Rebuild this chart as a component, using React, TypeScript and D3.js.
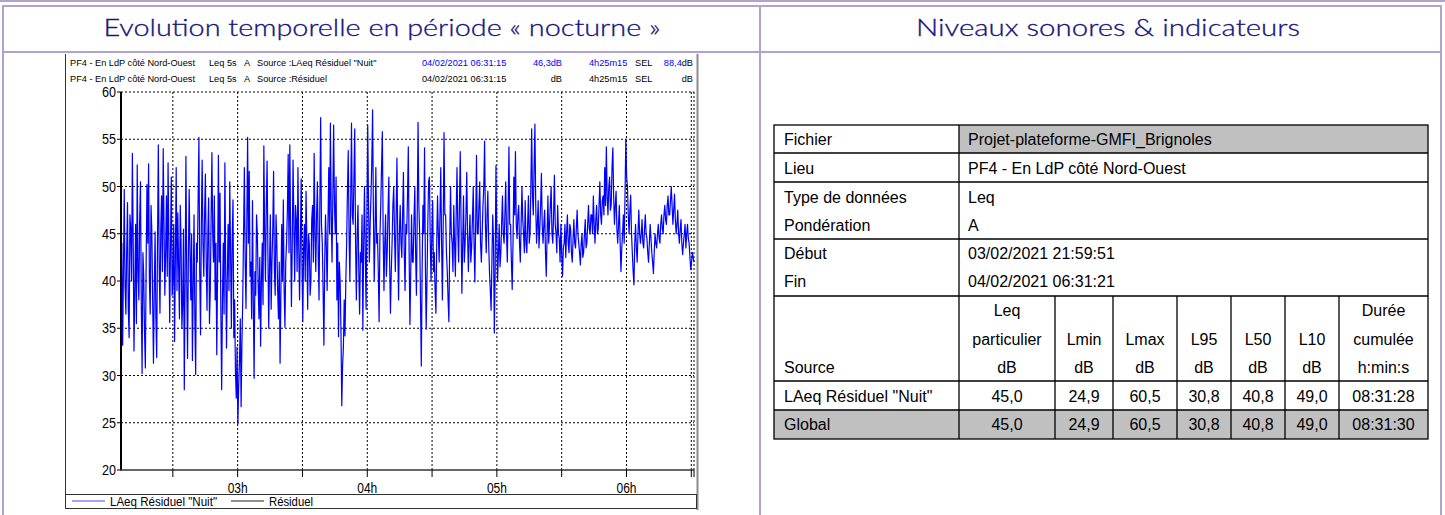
import React, { useEffect, useRef } from "react";
import * as d3 from "d3";

const width = 1445;
const height = 515;

// Leq values (dB), left to right, evenly spaced in time
const levels = [
  38.5, 44.0, 33.2, 41.0, 49.7, 39.5, 36.5, 43.0, 48.3, 37.0, 34.0, 47.0, 45.5, 40.0, 53.5, 44.5, 32.6, 39.0, 46.0, 35.5,
  52.3, 41.0, 38.0, 46.5, 50.5, 37.5, 30.2, 43.0, 40.5, 34.5, 30.8, 42.0, 50.2, 44.0, 52.4, 40.0, 36.5, 48.0, 45.3, 38.0,
  31.3, 39.0, 45.2, 36.0, 31.9, 44.5, 54.4, 42.0, 36.6, 45.5, 49.0, 41.0, 54.0, 46.0, 38.5, 43.0, 49.0, 40.5, 52.5, 44.0,
  35.6, 44.0, 51.0, 38.5, 40.0, 46.0, 33.6, 42.5, 52.0, 39.0, 47.2, 41.5, 36.0, 48.0, 44.0, 35.0, 37.5, 45.5, 28.5, 40.0,
  53.2, 40.0, 31.8, 42.5, 49.7, 43.0, 38.0, 45.0, 31.6, 39.5, 47.0, 36.0, 30.1, 44.0, 42.0, 48.5, 55.2, 41.0, 34.3, 46.0,
  52.8, 44.0, 40.5, 47.0, 51.3, 42.0, 36.9, 45.0, 48.8, 35.5, 39.0, 46.5, 53.6, 45.0, 42.0, 49.0, 38.0, 44.0, 32.2, 41.0,
  53.3, 42.0, 49.3, 37.0, 28.5, 38.0, 44.0, 36.5, 52.5, 41.0, 32.9, 40.5, 46.0, 39.0, 50.5, 43.0, 35.0, 44.5, 48.6, 34.0,
  38.0, 30.5, 27.6, 33.0, 24.9, 29.0, 31.5, 36.0, 26.7, 33.5, 38.0, 45.0, 52.0, 42.0, 37.1, 46.0, 55.2, 44.0, 51.6, 40.5,
  42.0, 36.0, 48.5, 38.0, 29.7, 41.0, 38.5, 47.0, 45.0, 39.5, 36.0, 42.5, 33.1, 40.0, 44.0, 37.5, 54.3, 45.0, 40.0, 48.0,
  52.7, 43.0, 35.0, 41.5, 47.0, 37.0, 42.0, 45.5, 51.6, 41.0, 38.5, 47.0, 44.0, 39.0, 36.0, 42.0, 31.3, 38.5, 46.0, 40.0,
  48.6, 39.0, 35.1, 42.0, 44.0, 47.5, 53.4, 43.0, 54.4, 45.0, 37.3, 44.0, 52.8, 46.0, 40.0, 48.0, 46.5, 41.0, 52.0, 43.5,
  38.0, 44.0, 50.8, 42.0, 35.7, 43.5, 46.0, 40.0, 49.5, 44.0, 37.0, 45.0, 44.0, 38.5, 40.0, 46.5, 48.0, 42.0, 53.5, 45.0,
  41.0, 47.0, 50.5, 43.0, 38.0, 48.0, 57.3, 46.0, 44.0, 39.0, 33.2, 42.0, 47.0, 43.5, 39.0, 46.0, 52.0, 45.0, 56.7, 47.5,
  42.0, 49.0, 56.5, 48.0, 45.0, 51.0, 38.0, 44.0, 34.1, 42.0, 40.0, 35.0, 26.8, 31.0, 33.0, 38.0, 34.2, 40.0, 44.0, 49.5,
  53.8, 45.0, 40.0, 48.5, 56.7, 47.0, 46.0, 51.0, 56.1, 44.0, 38.0, 45.0, 48.0, 41.0, 36.5, 43.0, 42.0, 47.0, 34.8, 44.0,
  50.0, 43.0, 37.0, 47.0, 56.5, 48.0, 42.0, 46.0, 49.0, 52.5, 58.1, 47.0, 40.0, 45.0, 52.0, 44.0, 45.0, 41.0, 35.7, 44.5,
  48.0, 52.0, 55.8, 45.0, 39.0, 44.0, 47.0, 40.5, 43.0, 47.5, 51.0, 42.0, 36.6, 41.0, 44.0, 48.0, 50.0, 45.0, 41.0, 47.0,
  53.0, 44.0, 38.0, 45.0, 48.0, 44.0, 42.5, 47.0, 51.5, 43.0, 39.0, 46.0, 45.0, 49.0, 54.2, 43.0, 35.4, 41.0, 47.0, 42.0,
  42.0, 46.5, 50.0, 43.0, 38.5, 47.0, 56.8, 48.0, 45.0, 38.0, 31.0, 41.0, 48.0, 45.0, 54.1, 42.0, 34.9, 40.0, 46.0, 50.5,
  51.0, 44.5, 40.0, 45.0, 48.5, 41.0, 43.0, 39.0, 36.6, 44.0, 49.0, 45.0, 42.0, 47.0, 52.0, 44.0, 38.0, 46.0, 55.7, 47.0,
  47.0, 43.0, 41.0, 38.0, 35.7, 44.0, 50.0, 45.0, 44.0, 41.0, 48.0, 44.0, 40.5, 47.0, 52.0, 45.5, 42.0, 48.0, 53.7, 46.0,
  38.7, 44.0, 49.0, 42.0, 44.0, 47.0, 51.5, 45.0, 41.0, 44.5, 47.0, 42.0, 43.5, 46.5, 50.0, 44.0, 39.9, 46.0, 53.3, 45.0,
  45.0, 48.0, 50.5, 44.0, 42.0, 45.0, 48.0, 50.0, 54.8, 46.0, 43.0, 47.0, 49.5, 44.0, 41.0, 39.0, 36.9, 42.0, 47.0, 44.0,
  34.5, 41.0, 52.2, 45.0, 40.0, 43.0, 46.0, 41.5, 43.0, 46.0, 49.0, 45.0, 44.0, 47.0, 50.5, 45.0, 42.0, 47.5, 54.2, 46.0,
  46.0, 42.0, 39.1, 44.0, 51.0, 47.0, 53.7, 46.0, 44.5, 47.0, 48.0, 44.0, 42.0, 46.0, 50.0, 46.5, 45.0, 43.0, 48.5, 44.0,
  43.0, 46.0, 49.0, 44.0, 45.0, 50.0, 56.1, 49.0, 47.0, 52.0, 56.6, 48.0, 44.0, 46.0, 48.5, 43.5, 45.5, 48.0, 51.4, 46.0,
  44.0, 46.0, 47.5, 43.0, 40.5, 45.0, 49.0, 44.0, 46.0, 48.0, 50.0, 45.0, 44.0, 47.0, 51.2, 46.0, 45.0, 43.0, 48.0, 45.0,
  44.5, 42.0, 46.0, 43.0, 40.5, 43.5, 44.0, 46.0, 42.5, 45.0, 47.0, 44.0, 43.0, 46.0, 45.5, 43.0, 42.0, 44.5, 46.5, 44.0,
  43.5, 45.5, 47.5, 45.0, 44.0, 43.0, 41.7, 44.0, 45.0, 42.5, 43.0, 45.0, 46.5, 43.5, 44.0, 46.0, 48.0, 45.5, 45.0, 47.0,
  47.0, 45.0, 49.0, 46.0, 44.0, 46.5, 48.0, 45.0, 45.5, 48.0, 50.5, 47.0, 46.0, 48.5, 49.0, 47.0, 52.0, 48.0, 54.2, 49.0,
  47.0, 50.0, 51.0, 47.5, 48.0, 52.0, 54.1, 49.0, 46.0, 48.0, 49.5, 45.5, 44.0, 46.0, 48.0, 44.0, 41.0, 43.5, 45.0, 47.0,
  44.0, 49.0, 55.0, 51.0, 50.0, 47.0, 45.0, 47.5, 49.1, 45.0, 43.0, 41.0, 39.6, 44.0, 46.0, 43.5, 42.0, 45.0, 47.5, 45.0,
  44.0, 45.0, 46.5, 44.0, 43.5, 45.5, 47.0, 45.0, 44.5, 43.0, 42.0, 44.0, 46.0, 44.5, 43.0, 42.0, 40.8, 43.0, 45.0, 44.0,
  43.5, 45.0, 46.0, 44.5, 44.0, 46.0, 47.0, 45.5, 45.0, 47.0, 48.0, 46.5, 46.0, 48.0, 49.0, 47.0, 47.0, 48.5, 50.0, 48.0,
  46.0, 47.5, 49.2, 46.5, 45.0, 46.0, 47.5, 45.0, 44.0, 45.5, 46.5, 44.0, 42.8, 44.0, 45.0, 46.0, 43.5, 45.0, 46.0, 44.5,
  44.0, 42.5, 41.2, 42.0, 43.0, 42.5, 42.0
];

const startTime = new Date(2021, 1, 4, 2, 6, 0);
const endTime = new Date(2021, 1, 4, 6, 31, 15);
const yTicks = [20, 25, 30, 35, 40, 45, 50, 55, 60];

const titles = ["Evolution temporelle en période « nocturne »", "Niveaux sonores & indicateurs"];

const place = "PF4 - En LdP côté Nord-Ouest";
const sources = ['LAeq Résiduel "Nuit"', "Résiduel"];
const sourceLeq = ["46,3", ""];
const sourceSel = ["88,4", ""];
const sourceColors = ["#0000ff", "#000000"];
const legendColors = ["#4a4aff", "#222222"];

const infoLabels = ["Fichier", "Lieu", "Type de données", "Pondération", "Début", "Fin"];
const infoValues = [
  "Projet-plateforme-GMFI_Brignoles",
  "PF4 - En LdP côté Nord-Ouest",
  "Leq",
  "A",
  "03/02/2021 21:59:51",
  "04/02/2021 06:31:21"
];
const colHeaders = [
  ["Leq", "particulier", "dB"],
  ["", "Lmin", "dB"],
  ["", "Lmax", "dB"],
  ["", "L95", "dB"],
  ["", "L50", "dB"],
  ["", "L10", "dB"],
  ["Durée", "cumulée", "h:min:s"]
];
const rowNames = ['LAeq Résiduel "Nuit"', "Global"];
const rowValues = [
  ["45,0", "24,9", "60,5", "30,8", "40,8", "49,0", "08:31:28"],
  ["45,0", "24,9", "60,5", "30,8", "40,8", "49,0", "08:31:30"]
];

const purple = "#b3a3cc";
const navy = "#14147c";
const arial = "'Liberation Sans', Arial, sans-serif";

const App = () => {
  const ref = useRef<SVGSVGElement>(null);

  useEffect(() => {
    const svg = d3.select(ref.current);
    svg.selectAll("*").remove();

    // page frame
    svg.append("line").attr("x1", 0).attr("x2", width).attr("y1", 1).attr("y2", 1)
      .attr("stroke", purple).attr("stroke-width", 2);
    svg.append("path")
      .attr("d", `M3,${height} V6 H1441 V${height} M3,52 H1441 M760,6 V${height}`)
      .attr("fill", "none").attr("stroke", purple).attr("stroke-width", 2);

    svg.selectAll("text.title")
      .data(titles)
      .join("text")
      .attr("class", "title")
      .attr("x", (d, i) => (i === 0 ? 382 : 1108))
      .attr("y", 36)
      .attr("text-anchor", "middle")
      .attr("font-family", "Lato, 'Open Sans', sans-serif")
      .attr("font-weight", 300)
      .attr("font-size", 23)
      .attr("fill", navy)
      .attr("stroke", navy)
      .attr("stroke-width", 0.3)
      .attr("textLength", (d, i) => (i === 0 ? 557 : 384))
      .attr("lengthAdjust", "spacingAndGlyphs")
      .text(d => d);

    // ---- left: time history ----
    const x = d3.scaleTime().domain([startTime, endTime]).range([121, 694]);
    const y = d3.scaleLinear().domain([20, 60]).range([470, 92]);

    const win = svg.append("g");
    win.append("line").attr("x1", 65.5).attr("x2", 65.5).attr("y1", 54).attr("y2", 509)
      .attr("stroke", "#333");
    win.append("line").attr("x1", 697.5).attr("x2", 697.5).attr("y1", 54).attr("y2", 510)
      .attr("stroke", "#8c8c8c").attr("stroke-width", 2);

    const head = svg.append("g").attr("font-family", arial).attr("font-size", 9.2);
    sources.forEach((s, i) => {
      const yy = 65.5 + i * 16;
      const c = sourceColors[i];
      head.append("text").attr("x", 70).attr("y", yy).text(place);
      head.append("text").attr("x", 209).attr("y", yy).text("Leq 5s");
      head.append("text").attr("x", 244).attr("y", yy).text("A");
      head.append("text").attr("x", 257).attr("y", yy).text("Source :" + s);
      head.append("text").attr("x", 422).attr("y", yy).attr("fill", c).text("04/02/2021 06:31:15");
      head.append("text").attr("x", 562).attr("y", yy).attr("text-anchor", "end")
        .attr("fill", c).text(sourceLeq[i] + "dB");
      head.append("text").attr("x", 589).attr("y", yy).attr("fill", c).text("4h25m15");
      head.append("text").attr("x", 635).attr("y", yy).text("SEL");
      const sel = head.append("text").attr("x", 693).attr("y", yy).attr("text-anchor", "end");
      sel.append("tspan").attr("fill", c).text(sourceSel[i]);
      sel.append("tspan").text("dB");
    });

    const plot = svg.append("g");
    const halfHours = d3.timeMinute.every(30)!.range(startTime, endTime);

    plot.append("g")
      .selectAll("line")
      .data(yTicks.slice(1))
      .join("line")
      .attr("x1", x.range()[0]).attr("x2", x.range()[1])
      .attr("y1", d => y(d)).attr("y2", d => y(d))
      .attr("stroke", "#000").attr("stroke-dasharray", "2,2");
    plot.append("g")
      .selectAll("line")
      .data(halfHours)
      .join("line")
      .attr("x1", d => x(d)).attr("x2", d => x(d))
      .attr("y1", y(60)).attr("y2", y(20))
      .attr("stroke", "#000").attr("stroke-dasharray", "2,2");
    plot.append("line").attr("x1", x.range()[1]).attr("x2", x.range()[1])
      .attr("y1", y(60)).attr("y2", y(20)).attr("stroke", "#000").attr("stroke-dasharray", "2,2");

    const step = (endTime.getTime() - startTime.getTime()) / (levels.length - 1);
    const line = d3.line<number>()
      .x((d, i) => x(new Date(startTime.getTime() + i * step)))
      .y(d => y(d));
    plot.append("path")
      .datum(levels)
      .attr("d", line)
      .attr("fill", "none")
      .attr("stroke", "#0000ff")
      .attr("stroke-width", 1.2)
      .attr("stroke-linejoin", "round");

    // axes
    plot.append("line").attr("x1", 121).attr("x2", 121).attr("y1", y(60)).attr("y2", y(20))
      .attr("stroke", "#000").attr("stroke-width", 2);
    plot.append("line").attr("x1", 120).attr("x2", x.range()[1]).attr("y1", y(20)).attr("y2", y(20))
      .attr("stroke", "#333").attr("stroke-width", 1.5);

    const yAxis = plot.append("g").attr("font-family", arial).attr("font-size", 14);
    yAxis.selectAll("line")
      .data(yTicks)
      .join("line")
      .attr("x1", 117).attr("x2", 121)
      .attr("y1", d => y(d)).attr("y2", d => y(d))
      .attr("stroke", "#000");
    yAxis.selectAll("text")
      .data(yTicks)
      .join("text")
      .attr("x", 116)
      .attr("y", d => y(d) + 5)
      .attr("text-anchor", "end")
      .attr("textLength", 14)
      .attr("lengthAdjust", "spacingAndGlyphs")
      .text(d => d);

    const xAxis = plot.append("g").attr("font-family", arial).attr("font-size", 14);
    xAxis.selectAll("line")
      .data([...halfHours, endTime])
      .join("line")
      .attr("x1", d => x(d)).attr("x2", d => x(d))
      .attr("y1", y(20)).attr("y2", y(20) + 7)
      .attr("stroke", "#000");
    xAxis.selectAll("text")
      .data(halfHours.filter(d => d.getMinutes() === 0))
      .join("text")
      .attr("x", d => x(d))
      .attr("y", 493)
      .attr("text-anchor", "middle")
      .attr("textLength", 20)
      .attr("lengthAdjust", "spacingAndGlyphs")
      .text(d => d3.timeFormat("%Hh")(d));

    // legend
    const leg = svg.append("g").attr("font-family", arial).attr("font-size", 13);
    leg.append("rect").attr("x", 65.5).attr("y", 494.5).attr("width", 631).attr("height", 14)
      .attr("fill", "#fff").attr("stroke", "#333");
    const legX = [72, 231];
    const legW = [107, 44];
    sources.forEach((s, i) => {
      leg.append("line").attr("x1", legX[i]).attr("x2", legX[i] + 33)
        .attr("y1", 501).attr("y2", 501).attr("stroke", legendColors[i]);
      leg.append("text").attr("x", legX[i] + 38).attr("y", 506)
        .attr("textLength", legW[i]).attr("lengthAdjust", "spacingAndGlyphs").text(s);
    });

    // ---- right: table ----
    const cols = [774, 959, 1055, 1113, 1177, 1231, 1285, 1339, 1428];
    const rows = [125, 153, 182, 239, 296, 381, 410, 439];
    const tbl = svg.append("g").attr("font-family", arial).attr("font-size", 16).attr("fill", "#000");

    tbl.append("rect").attr("x", cols[1]).attr("y", rows[0]).attr("width", cols[8] - cols[1])
      .attr("height", rows[1] - rows[0]).attr("fill", "#c0c0c0");
    tbl.append("rect").attr("x", cols[0]).attr("y", rows[6]).attr("width", cols[8] - cols[0])
      .attr("height", rows[7] - rows[6]).attr("fill", "#c0c0c0");

    const infoY = [139, 168, 197, 225, 253, 281];
    infoLabels.forEach((l, i) => {
      tbl.append("text").attr("x", 784).attr("y", infoY[i] + 6).text(l);
      tbl.append("text").attr("x", 968).attr("y", infoY[i] + 6).text(infoValues[i]);
    });

    const headY = [310, 339, 367];
    tbl.append("text").attr("x", 784).attr("y", headY[2] + 6).text("Source");
    colHeaders.forEach((h, j) => {
      const cx = (cols[j + 1] + cols[j + 2]) / 2;
      h.forEach((t, k) => {
        tbl.append("text").attr("x", cx).attr("y", headY[k] + 6).attr("text-anchor", "middle").text(t);
      });
    });
    const rowY = [396, 424];
    rowNames.forEach((n, i) => {
      tbl.append("text").attr("x", 784).attr("y", rowY[i] + 6).text(n);
      rowValues[i].forEach((v, j) => {
        tbl.append("text").attr("x", (cols[j + 1] + cols[j + 2]) / 2).attr("y", rowY[i] + 6)
          .attr("text-anchor", "middle").text(v);
      });
    });

    const grid = tbl.append("g").attr("stroke", "#000").attr("stroke-width", 1.3).attr("fill", "none");
    grid.append("rect").attr("x", cols[0]).attr("y", rows[0]).attr("width", cols[8] - cols[0])
      .attr("height", rows[7] - rows[0]);
    rows.slice(1, -1).forEach(r => {
      grid.append("line").attr("x1", cols[0]).attr("x2", cols[8]).attr("y1", r).attr("y2", r);
    });
    grid.append("line").attr("x1", cols[1]).attr("x2", cols[1]).attr("y1", rows[0]).attr("y2", rows[7]);
    cols.slice(2, -1).forEach(c => {
      grid.append("line").attr("x1", c).attr("x2", c).attr("y1", rows[4]).attr("y2", rows[7]);
    });
  }, []);

  return (
    <svg
      ref={ref}
      width={width}
      height={height}
      viewBox={`0 0 ${width} ${height}`}
      style={{ position: "absolute", left: 0, top: 0, background: "#fff" }}
    ></svg>
  );
};

export default App;
